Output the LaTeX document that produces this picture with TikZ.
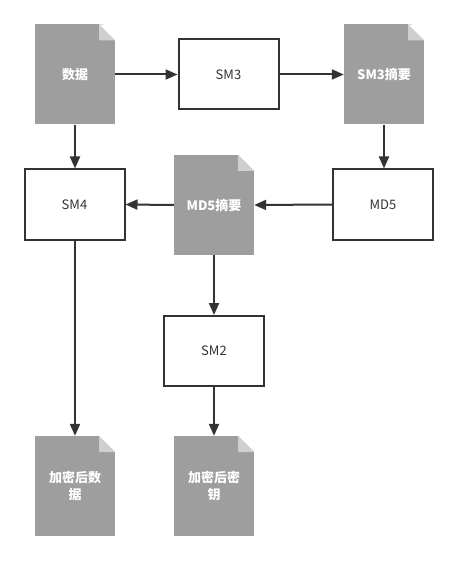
\documentclass[tikz,border=0pt]{standalone}
\usepackage{fontspec}
\setmainfont{Noto Sans CJK SC}
\usetikzlibrary{arrows.meta}
\definecolor{linec}{HTML}{333333}
\definecolor{docg}{HTML}{9E9E9E}
\definecolor{foldg}{HTML}{CFCFCF}
\begin{document}
\begin{tikzpicture}[x=1pt,y=-1pt,
 box/.style={draw=linec,line width=2pt,fill=white,minimum width=100pt,minimum height=70pt,inner sep=0pt,text=linec,font=\fontsize{13}{15}\selectfont},
 docbox/.style={fill=docg,minimum width=80pt,minimum height=100pt,inner sep=0pt,text=white,font=\bfseries\fontsize{13}{17}\selectfont,align=center,
   path picture={
   \fill[white] ([xshift=-16pt]path picture bounding box.north east) -- ([xshift=1pt,yshift=1pt]path picture bounding box.north east) -- ([yshift=-16pt]path picture bounding box.north east) -- cycle;
   \fill[foldg] ([xshift=-16pt]path picture bounding box.north east) -- ([xshift=-16pt,yshift=-16pt]path picture bounding box.north east) -- ([yshift=-16pt]path picture bounding box.north east) -- cycle;}},
 arr/.style={draw=linec,line width=2pt,-{Triangle[length=12pt,width=10pt]}}]
\useasboundingbox (0,0) rectangle (458,561);
\node[docbox] (d1) at (75,74.5) {数据};
\node[box] (sm3) at (228.5,74.5) {SM3};
\node[docbox] (d2) at (384,74.5) {SM3摘要};
\node[box] (md5) at (383,204.5) {MD5};
\node[docbox] (d3) at (214,205) {MD5摘要};
\node[box] (sm4) at (74.5,204.5) {SM4};
\node[box] (sm2) at (214,351) {SM2};
\node[docbox] (d4) at (75,486) {加密后数\\据};
\node[docbox] (d5) at (214,486) {加密后密\\钥};
\draw[arr] (d1.east) -- (sm3.west);
\draw[arr] (sm3.east) -- (d2.west);
\draw[arr] (d2.south) -- (d2.south |- md5.north);
\draw[arr] (md5.west) -- (d3.east);
\draw[arr] (d3.west) -- (sm4.east);
\draw[arr] (d1.south) -- (d1.south |- sm4.north);
\draw[arr] (d3.south) -- (sm2.north);
\draw[arr] (d4.north |- sm4.south) -- (d4.north);
\draw[arr] (sm2.south) -- (d5.north);
\end{tikzpicture}
\end{document}
